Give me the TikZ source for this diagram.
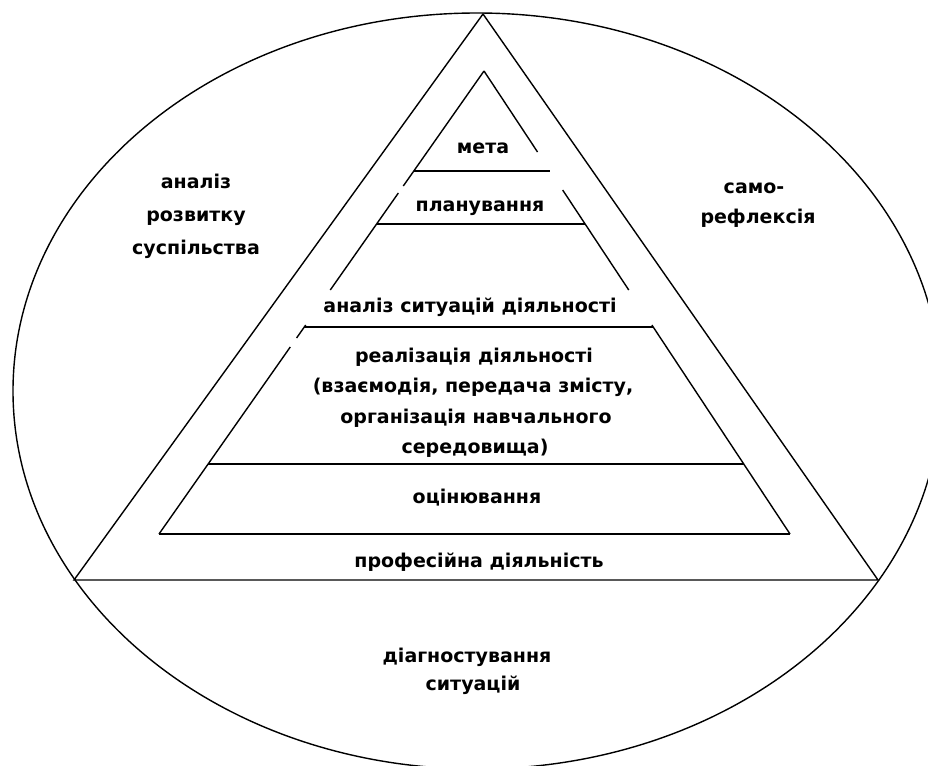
\documentclass[tikz,border=0pt]{standalone}
\usepackage{fontspec}
\setmainfont{DejaVu Sans}
\usetikzlibrary{calc}
\begin{document}
\begin{tikzpicture}[x=1pt,y=-1pt,line width=1.4pt,
  lbl/.style={font=\bfseries\fontsize{19}{22}\selectfont,inner sep=0pt,anchor=base}]
\useasboundingbox (0,0) rectangle (928,765);
% outer ellipse
\draw (477,391) ellipse [x radius=464pt, y radius=378pt];
% outer triangle
\coordinate (OA) at (483,14);
\coordinate (OL) at (74,580);
\coordinate (OR) at (878,580);
\draw (OA) -- (OL) -- (OR) -- cycle;
% inner triangle
\coordinate (IA) at (484,71);
\coordinate (IL) at (159,534);
\coordinate (IR) at (790,534);
\draw (IL) -- (IR);
% left side with gaps
\draw (IA) -- ($(IA)!0.2484!(IL)$);
\draw ($(IA)!0.2635!(IL)$) -- ($(IA)!0.473!(IL)$);
\draw ($(IA)!0.5486!(IL)$) -- ($(IA)!0.5767!(IL)$);
\draw ($(IA)!0.5961!(IL)$) -- (IL);
% right side with gaps
\draw (IA) -- ($(IA)!0.175!(IR)$);
\draw ($(IA)!0.257!(IR)$) -- ($(IA)!0.473!(IR)$);
\draw ($(IA)!0.5486!(IR)$) -- (IR);
% level lines
\draw ($(IA)!0.216!(IL)$) -- ($(IA)!0.216!(IR)$);
\draw ($(IA)!0.3305!(IL)$) -- ($(IA)!0.3305!(IR)$);
\draw ($(IA)!0.5529!(IL)$) -- ($(IA)!0.5529!(IR)$);
\draw ($(IA)!0.8488!(IL)$) -- ($(IA)!0.8488!(IR)$);
% labels
\node[lbl] (meta) at (483,153) {мета};
\node[lbl] (plan) at (480,211) {планування};
\node[lbl] (anal) at (470,312) {аналіз ситуацій діяльності};
\node[lbl] (real1) at (474,362) {реалізація діяльності};
\node[lbl] (real2) at (473,392) {(взаємодія, передача змісту,};
\node[lbl] (real3) at (476,423) {організація навчального};
\node[lbl] (real4) at (475,453) {середовища)};
\node[lbl] (ocin) at (477,503) {оцінювання};
\node[lbl] (prof) at (479,567) {професійна діяльність};
\node[lbl] (diag1) at (467,662) {діагностування};
\node[lbl] (diag2) at (473,690) {ситуацій};
\node[lbl] (left1) at (196,188) {аналіз};
\node[lbl] (left2) at (196,221) {розвитку};
\node[lbl] (left3) at (196,254) {суспільства};
\node[lbl] (right1) at (754,193) {само-};
\node[lbl] (right2) at (758,223) {рефлексія};
\end{tikzpicture}
\end{document}
